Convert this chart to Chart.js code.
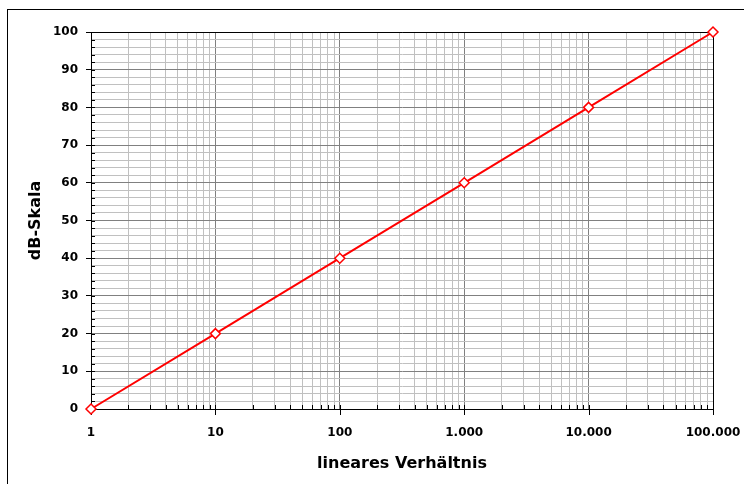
<!DOCTYPE html>
<html lang="de">
<head>
<meta charset="utf-8">
<title>dB-Skala</title>
<script src="https://cdn.jsdelivr.net/npm/chart.js@4.4.1/dist/chart.umd.min.js"></script>
<style>
    html, body { margin: 0; padding: 0; background: #fff; overflow: hidden; }
    #wrap { position: relative; width: 744px; height: 484px; }
    #frame { position: absolute; left: 7px; top: 9px; width: 800px; height: 600px; border: 1px solid #000; pointer-events: none; }
</style>
</head>
<body>
<div id="wrap">
    <canvas id="dbChart" width="744" height="484"></canvas>
    <div id="frame"></div>
</div>
<script>
// --- DATA ---
const ratios = [1, 10, 100, 1000, 10000, 100000];
const dbValues = [0, 20, 40, 60, 80, 100];

const decades = [1, 10, 100, 1000, 10000];
const multipliers = [1, 2, 3, 4, 5, 6, 7, 8, 9];
const xMax = 100000;
const yMin = 0;
const yMax = 100;
const yStep = 2;
const yLabelStep = 10;

const xTitle = 'lineares Verhältnis';
const yTitle = 'dB-Skala';

document.addEventListener('DOMContentLoaded', () => {
    const xTickValues = [];
    decades.forEach(d => multipliers.forEach(m => xTickValues.push(d * m)));
    xTickValues.push(xMax);

    const isPow10 = v => Math.abs(Math.log10(v) - Math.round(Math.log10(v))) < 1e-9;
    const fmt = v => String(v).replace(/\B(?=(\d{3})+(?!\d))/g, '.');

    const MAJOR = '#808080';
    const MINOR = '#c0c0c0';
    const tickFont = { family: 'DejaVu Sans', size: 12, weight: 'bold' };
    const titleFont = { family: 'DejaVu Sans', size: 16, weight: 'bold' };

    // frame around plot area + tick marks (Excel style: minor inside, major crossing)
    const frameAndTicks = {
        id: 'frameAndTicks',
        beforeDatasetsDraw(chart) {
            const { ctx, chartArea: a, scales: { x, y } } = chart;
            ctx.save();
            ctx.strokeStyle = '#000';
            ctx.lineWidth = 1;
            ctx.beginPath();
            ctx.moveTo(a.left, a.top + 0.5);
            ctx.lineTo(a.right + 0.5, a.top + 0.5);
            ctx.lineTo(a.right + 0.5, a.bottom);
            ctx.stroke();
            ctx.beginPath();
            x.ticks.forEach(t => {
                const px = Math.round(x.getPixelForValue(t.value)) + 0.5;
                ctx.moveTo(px, a.bottom - 4);
                ctx.lineTo(px, t.major ? a.bottom + 6 : a.bottom);
            });
            y.ticks.forEach(t => {
                const py = Math.round(y.getPixelForValue(t.value)) + 0.5;
                ctx.moveTo(a.left, py);
                ctx.lineTo(a.left + 4, py);
            });
            ctx.stroke();
            ctx.restore();
        }
    };

    new Chart(document.getElementById('dbChart').getContext('2d'), {
        type: 'line',
        data: {
            datasets: [{
                data: ratios.map((r, i) => ({ x: r, y: dbValues[i] })),
                borderColor: '#ff0000',
                borderWidth: 2,
                pointStyle: 'rectRot',
                pointRadius: 5,
                pointBackgroundColor: '#ffffff',
                pointBorderColor: '#ff0000',
                pointBorderWidth: 1.5,
                tension: 0,
                clip: false
            }]
        },
        options: {
            responsive: false,
            animation: false,
            events: [],
            layout: { padding: { left: 0, right: 31, top: 32, bottom: 0 } },
            plugins: { legend: { display: false }, tooltip: { enabled: false } },
            scales: {
                x: {
                    type: 'logarithmic',
                    min: 1,
                    max: xMax,
                    afterBuildTicks: scale => {
                        scale.ticks = xTickValues.map(v => ({ value: v, major: isPow10(v) }));
                    },
                    afterFit: scale => { scale.height = 75; },
                    ticks: {
                        autoSkip: false,
                        maxRotation: 0,
                        padding: 0,
                        color: '#000',
                        font: tickFont,
                        callback: v => isPow10(v) ? fmt(v) : ''
                    },
                    grid: {
                        color: c => c.tick && isPow10(c.tick.value) ? MAJOR : MINOR,
                        tickColor: 'rgba(0,0,0,0)',
                        tickLength: 17
                    },
                    border: { color: '#000', width: 1 },
                    title: { display: true, text: xTitle, color: '#000', font: titleFont, padding: { top: 0, bottom: 11 } }
                },
                y: {
                    type: 'linear',
                    min: yMin,
                    max: yMax,
                    afterFit: scale => { scale.width = 91; },
                    ticks: {
                        stepSize: yStep,
                        autoSkip: false,
                        padding: 8,
                        color: '#000',
                        font: tickFont,
                        callback: v => v % yLabelStep === 0 ? v : ''
                    },
                    grid: {
                        color: c => c.tick && c.tick.value % yLabelStep === 0 ? MAJOR : MINOR,
                        tickColor: c => c.tick && c.tick.value % yLabelStep === 0 ? '#000' : 'rgba(0,0,0,0)',
                        tickLength: 5
                    },
                    border: { color: '#000', width: 1 },
                    title: { display: true, text: yTitle, color: '#000', font: titleFont, padding: { top: 26, bottom: 0 } }
                }
            }
        },
        plugins: [frameAndTicks]
    });
});
</script>
</body>
</html>
